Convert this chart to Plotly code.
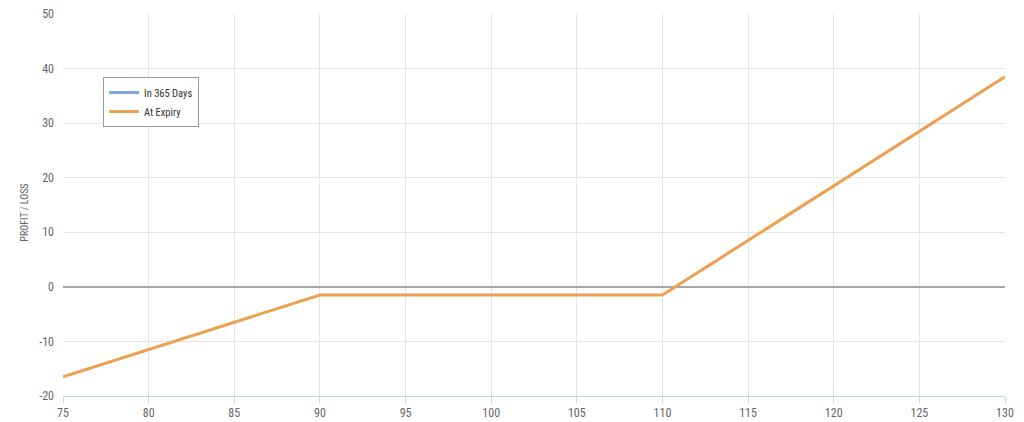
import plotly.graph_objects as go

# Data
price = [75, 90, 110, 130]
pnl_expiry = [-16.5, -1.5, -1.5, 38.5]
x_ticks = [75, 80, 85, 90, 95, 100, 105, 110, 115, 120, 125, 130]
y_ticks = [-20, -10, 0, 10, 20, 30, 40, 50]
y_tick_text = ["-20", "-10", "0", "10", "20", "30", "40", "50"]

FONT = "Roboto Condensed, Liberation Sans Narrow, Roboto, sans-serif"

fig = go.Figure()
fig.add_trace(go.Scatter(x=[None], y=[None], mode="lines", name="In 365 Days",
                         line=dict(color="#7ea6e0", width=3)))
fig.add_trace(go.Scatter(x=price, y=pnl_expiry, mode="lines", name="At Expiry",
                         line=dict(color="#eba052", width=3)))

fig.update_layout(
    width=1024, height=422,
    margin=dict(l=63, r=19, t=14, b=26, autoexpand=False),
    paper_bgcolor="white", plot_bgcolor="white",
    font=dict(family=FONT, size=12, color="#666666"),
    showlegend=True,
    legend=dict(x=0.0425, y=0.835, xanchor="left", yanchor="top",
                bgcolor="white", bordercolor="#999999", borderwidth=1,
                font=dict(family=FONT, size=10.5, color="#333333"),
                tracegroupgap=0, itemwidth=30, entrywidth=0),
    annotations=[dict(text="PROFIT / LOSS", textangle=-90, xref="paper", yref="paper",
                      x=(25 - 63) / 942, y=0.48, showarrow=False,
                      xanchor="center", yanchor="middle",
                      font=dict(family=FONT, size=10, color="#666666"))],
)
fig.update_xaxes(range=[75, 130], tickvals=x_ticks, showgrid=True, automargin=False,
                 gridcolor="#dfe4ee", gridwidth=1, zeroline=False,
                 showline=True, linecolor="#c6d3ea", linewidth=1,
                 ticks="outside", ticklen=6, tickcolor="#c6d3ea",
                 tickfont=dict(size=12, color="#666666"))
fig.update_yaxes(range=[-20, 50], tickvals=y_ticks, ticktext=y_tick_text, showgrid=True,
                 automargin=False, gridcolor="#e3e3e3", gridwidth=1,
                 zeroline=True, zerolinecolor="#a6a6a6", zerolinewidth=2,
                 showline=False, ticks="", ticklabelstandoff=8,
                 tickfont=dict(size=12, color="#666666"))

fig.write_html("out.html", config={"displayModeBar": False},
               post_script="document.body.style.margin='0';document.body.style.padding='0';")
